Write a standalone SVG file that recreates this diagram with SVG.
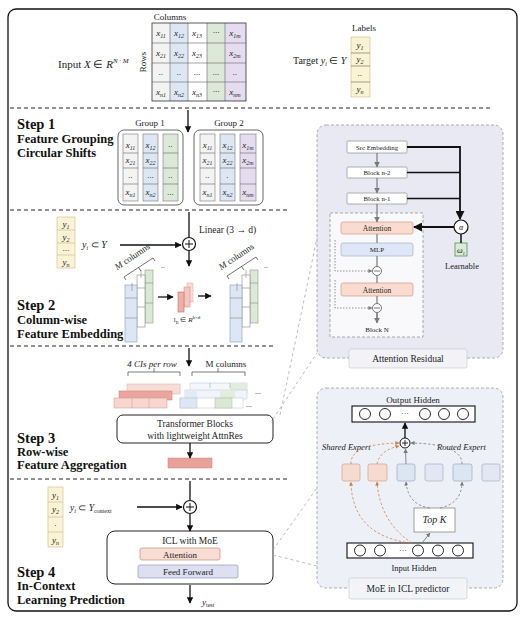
<svg xmlns="http://www.w3.org/2000/svg" width="525" height="617" viewBox="0 0 525 617">
<defs>
<marker id="ah" viewBox="0 0 10 10" refX="9" refY="5" markerWidth="5" markerHeight="5" orient="auto"><path d="M0,0 L10,5 L0,10 z" fill="#111"/></marker>
<marker id="ahg" viewBox="0 0 10 10" refX="9" refY="5" markerWidth="5" markerHeight="5" orient="auto"><path d="M0,0 L10,5 L0,10 z" fill="#7a7a7a"/></marker>
<marker id="aho" viewBox="0 0 10 10" refX="9" refY="5" markerWidth="5" markerHeight="5" orient="auto"><path d="M0,0 L10,5 L0,10 z" fill="#d08040"/></marker>
</defs>
<style>
text{font-family:"Liberation Serif","Times New Roman",serif;fill:#222}
.step{font-weight:bold;font-size:14.5px;fill:#111}
.sd{font-weight:bold;font-size:12.5px;fill:#111}
.c{font-size:9px;font-style:italic;text-anchor:middle}
.m{text-anchor:middle}
.cl{stroke:#666;stroke-width:0.6}
.sec{stroke:#222;stroke-width:1;fill:none;stroke-dasharray:4 3}
.ln{stroke:#111;stroke-width:1.3;fill:none}
.gl{stroke:#7a7a7a;stroke-width:1.2;fill:none}
.dc{stroke:#aaa;stroke-width:0.8;fill:none;stroke-dasharray:3 3}
.yl{fill:#fbf3d4;stroke:#c9bb8c;stroke-width:0.6}
.wb{fill:#f3f3f3}
.bb{fill:#dde7f4}
.gb{fill:#dde9d8}
.pb{fill:#e6dcef}
.blk{fill:#fff;stroke:#999;stroke-width:0.8}
</style>
<rect width="525" height="617" fill="#fff"/>
<rect x="8" y="9" width="509" height="602" rx="8" fill="none" stroke="#111" stroke-width="1.3"/>

<!-- section lines -->
<g id="sections">
<line class="sec" x1="10" y1="108" x2="490" y2="108"/>
<line class="sec" x1="10" y1="210" x2="290" y2="210"/>
<line class="sec" x1="10" y1="346" x2="275" y2="346"/>
<line class="sec" x1="10" y1="479" x2="290" y2="479"/>
</g>

<!-- input matrix -->
<g id="input">
<text x="58" y="68" font-size="11">Input <tspan font-style="italic">X</tspan>  ∈ <tspan font-style="italic">R</tspan><tspan font-size="7" dy="-5" font-style="italic">N · M</tspan></text>
<text x="170" y="20" font-size="9" class="m">Columns</text>
<text transform="translate(146,62) rotate(-90)" font-size="9" class="m">Rows</text>
<rect class="wb" x="152" y="23" width="18" height="78"/>
<rect class="bb" x="170" y="23" width="18" height="78"/>
<rect fill="#fff" x="188" y="23" width="19" height="78"/>
<rect class="gb" x="207" y="23" width="18" height="78"/>
<rect class="pb" x="225" y="23" width="21" height="78"/>
<g class="cl">
<line x1="170" y1="23" x2="170" y2="101"/><line x1="188" y1="23" x2="188" y2="101"/><line x1="207" y1="23" x2="207" y2="101"/><line x1="225" y1="23" x2="225" y2="101"/>
<line x1="152" y1="43" x2="246" y2="43"/><line x1="152" y1="63" x2="246" y2="63"/><line x1="152" y1="82" x2="246" y2="82"/>
</g>
<rect x="152" y="23" width="94" height="78" fill="none" stroke="#333" stroke-width="0.8"/>
<text class="c" x="161" y="36">x<tspan font-size="6" dy="2">11</tspan></text>
<text class="c" x="179" y="36">x<tspan font-size="6" dy="2">12</tspan></text>
<text class="c" x="197" y="36">x<tspan font-size="6" dy="2">13</tspan></text>
<text class="c" x="216" y="35">···</text>
<text class="c" x="235" y="36">x<tspan font-size="6" dy="2">1m</tspan></text>
<text class="c" x="161" y="56">x<tspan font-size="6" dy="2">21</tspan></text>
<text class="c" x="179" y="56">x<tspan font-size="6" dy="2">22</tspan></text>
<text class="c" x="197" y="56">x<tspan font-size="6" dy="2">23</tspan></text>
<text class="c" x="235" y="56">x<tspan font-size="6" dy="2">2m</tspan></text>
<text class="c" x="161" y="75">..</text><text class="c" x="179" y="75">..</text><text class="c" x="197" y="75">...</text><text class="c" x="216" y="75">...</text><text class="c" x="235" y="75">..</text>
<text class="c" x="161" y="95">x<tspan font-size="6" dy="2">n1</tspan></text>
<text class="c" x="179" y="95">x<tspan font-size="6" dy="2">n2</tspan></text>
<text class="c" x="197" y="95">x<tspan font-size="6" dy="2">n3</tspan></text>
<text class="c" x="216" y="94">···</text>
<text class="c" x="235" y="95">x<tspan font-size="6" dy="2">nm</tspan></text>
</g>

<!-- target labels -->
<g id="target">
<text x="293" y="64" font-size="10">Target <tspan font-style="italic">y</tspan><tspan font-size="6" dy="2" font-style="italic">i</tspan><tspan dy="-2">  ∈ </tspan><tspan font-style="italic">Y</tspan></text>
<text x="364" y="31" font-size="9" class="m">Labels</text>
<rect class="yl" x="351" y="37" width="19" height="60"/>
<g class="cl" stroke="#c9bb8c"><line x1="351" y1="53" x2="370" y2="53"/><line x1="351" y1="66" x2="370" y2="66"/><line x1="351" y1="82" x2="370" y2="82"/></g>
<text class="c" x="360" y="48">y<tspan font-size="6" dy="2">1</tspan></text>
<text class="c" x="360" y="62">y<tspan font-size="6" dy="2">2</tspan></text>
<text class="c" x="360" y="76">..</text>
<text class="c" x="360" y="92">y<tspan font-size="6" dy="2">n</tspan></text>
</g>

<!-- step 1 -->
<g id="step1">
<text class="step" x="17" y="129">Step 1</text>
<text class="sd" x="17" y="143">Feature Grouping</text>
<text class="sd" x="17" y="157">Circular Shifts</text>
<text x="150" y="126" font-size="9" class="m">Group 1</text>
<text x="229" y="126" font-size="9" class="m">Group 2</text>
<rect x="118" y="130" width="65" height="75" rx="6" fill="#fff" stroke="#555" stroke-width="0.9"/>
<rect x="194" y="130" width="69" height="75" rx="6" fill="#fff" stroke="#555" stroke-width="0.9"/>
<rect class="wb" x="123" y="134" width="15" height="67" stroke="#777" stroke-width="0.6"/>
<rect class="bb" x="143" y="134" width="15" height="67" stroke="#777" stroke-width="0.6"/>
<rect class="gb" x="163" y="134" width="15" height="67" stroke="#777" stroke-width="0.6"/>
<rect class="wb" x="200" y="134" width="15" height="67" stroke="#777" stroke-width="0.6"/>
<rect class="bb" x="220" y="134" width="15" height="67" stroke="#777" stroke-width="0.6"/>
<rect class="pb" x="240" y="134" width="16" height="67" stroke="#777" stroke-width="0.6"/>
<g class="cl">
<path d="M123,153H138M143,153H158M163,153H178M123,168H138M143,168H158M163,168H178M123,184H138M143,184H158M163,184H178"/>
<path d="M200,153H215M220,153H235M240,153H256M200,168H215M220,168H235M240,168H256M200,184H215M220,184H235M240,184H256"/>
</g>
<text class="c" x="130.5" y="148">x<tspan font-size="6" dy="2">11</tspan></text>
<text class="c" x="150.5" y="148">x<tspan font-size="6" dy="2">12</tspan></text>
<text class="c" x="170.5" y="147">..</text>
<text class="c" x="130.5" y="163">x<tspan font-size="6" dy="2">21</tspan></text>
<text class="c" x="150.5" y="163">x<tspan font-size="6" dy="2">22</tspan></text>
<text class="c" x="130.5" y="178">..</text><text class="c" x="150.5" y="178">...</text><text class="c" x="170.5" y="178">..</text>
<text class="c" x="130.5" y="195">x<tspan font-size="6" dy="2">n1</tspan></text>
<text class="c" x="150.5" y="195">x<tspan font-size="6" dy="2">n2</tspan></text>
<text class="c" x="170.5" y="195">...</text>
<text class="c" x="207.5" y="148">x<tspan font-size="6" dy="2">11</tspan></text>
<text class="c" x="227.5" y="148">x<tspan font-size="6" dy="2">12</tspan></text>
<text class="c" x="248" y="148">x<tspan font-size="6" dy="2">1m</tspan></text>
<text class="c" x="207.5" y="163">x<tspan font-size="6" dy="2">21</tspan></text>
<text class="c" x="227.5" y="163">x<tspan font-size="6" dy="2">22</tspan></text>
<text class="c" x="248" y="163">x<tspan font-size="6" dy="2">2m</tspan></text>
<text class="c" x="207.5" y="178">..</text><text class="c" x="227.5" y="178">.</text>
<text class="c" x="207.5" y="195">x<tspan font-size="6" dy="2">n1</tspan></text>
<text class="c" x="227.5" y="195">x<tspan font-size="6" dy="2">n2</tspan></text>
<text class="c" x="248" y="195">x<tspan font-size="6" dy="2">nm</tspan></text>
</g>

<!-- step 2 -->
<g id="step2">
<text class="step" x="17" y="310">Step 2</text>
<text class="sd" x="17" y="324">Column-wise</text>
<text class="sd" x="17" y="338">Feature Embedding</text>
<rect class="yl" x="57" y="217" width="18" height="51"/>
<g stroke="#c9bb8c" stroke-width="0.6"><line x1="57" y1="230" x2="75" y2="230"/><line x1="57" y1="243" x2="75" y2="243"/><line x1="57" y1="255" x2="75" y2="255"/></g>
<text class="c" x="66" y="227">y<tspan font-size="6" dy="2">1</tspan></text>
<text class="c" x="66" y="240">y<tspan font-size="6" dy="2">2</tspan></text>
<text class="c" x="66" y="251">...</text>
<text class="c" x="66" y="265">y<tspan font-size="6" dy="2">n</tspan></text>
<text x="82" y="248" font-size="10"><tspan font-style="italic">y</tspan><tspan font-size="6" dy="2" font-style="italic">i</tspan><tspan dy="-2"> ⊂ </tspan><tspan font-style="italic">Y</tspan></text>
<text x="199" y="233" font-size="9.5">Linear (3 → d)</text>
<circle cx="189" cy="244" r="6.5" fill="#fff" stroke="#111" stroke-width="1.2"/>
<path d="M185,244H193M189,240V248" stroke="#111" stroke-width="1"/>
<!-- left column stack -->
<rect x="145" y="270" width="8" height="53" fill="#dce8d6" stroke="#8a9f80" stroke-width="0.6"/>
<rect x="137" y="275" width="8" height="52" fill="#fff" stroke="#888" stroke-width="0.6"/>
<rect x="125" y="285" width="12" height="57" fill="#dde6f4" stroke="#8e9cba" stroke-width="0.6"/>
<path d="M125,298H137M125,318H137M137,288H145M137,307H145M145,283H153M145,303H153M132,283V291M141,270V278" stroke="#888" stroke-width="0.6"/>
<text transform="translate(134,259) rotate(-34)" font-size="9" class="m"><tspan font-style="italic">M</tspan> columns</text>
<path d="M124,277 L153,258 M138.5,267.5 L141,271 M124,277 L126,280 M153,258 L155,261" stroke="#333" stroke-width="0.7" fill="none"/>
<text x="161" y="268" font-size="8">..</text>
<!-- small pink -->
<rect x="187" y="283" width="6" height="19" fill="#f8dcd6" stroke="#e0a8a0" stroke-width="0.5"/>
<rect x="184" y="287" width="6" height="20" fill="#f3c6be" stroke="#d08a80" stroke-width="0.5"/>
<rect x="178" y="292" width="6" height="20" fill="#eeb0a6" stroke="#c0706a" stroke-width="0.6"/>
<text x="187" y="322" font-size="7" class="m">l<tspan font-size="5" dy="1.5">E</tspan><tspan dy="-1.5"> ∈ </tspan><tspan font-style="italic">R</tspan><tspan font-size="5" dy="-3">k×d</tspan></text>
<!-- right column stack -->
<rect x="250" y="270" width="8" height="53" fill="#dce8d6" stroke="#8a9f80" stroke-width="0.6"/>
<rect x="242" y="275" width="8" height="52" fill="#fff" stroke="#888" stroke-width="0.6"/>
<rect x="230" y="285" width="12" height="57" fill="#dde6f4" stroke="#8e9cba" stroke-width="0.6"/>
<path d="M230,298H242M230,318H242M242,288H250M242,307H250M250,283H258M250,303H258M237,283V291M246,270V278" stroke="#888" stroke-width="0.6"/>
<text transform="translate(238,259) rotate(-34)" font-size="9" class="m"><tspan font-style="italic">M</tspan> columns</text>
<path d="M227,276 L256,257 M241.5,266.5 L244,270 M227,276 L229,279 M256,257 L258,260" stroke="#333" stroke-width="0.7" fill="none"/>
<text x="264" y="268" font-size="8">..</text>
</g>

<!-- step 3 -->
<g id="step3">
<text class="step" x="17" y="443">Step 3</text>
<text class="sd" x="17" y="456">Row-wise</text>
<text class="sd" x="17" y="469">Feature Aggregation</text>
<text x="152" y="367" font-size="9" class="m" font-style="italic">4 CIs per row</text>
<text x="226" y="367" font-size="9" class="m">M columns</text>
<path d="M128,376V372H180V376M154,372V368" stroke="#444" stroke-width="0.7" fill="none"/>
<path d="M192,376V372H245V376M218,372V368" stroke="#444" stroke-width="0.7" fill="none"/>
<rect x="127" y="384" width="53" height="10" fill="#f8ddd7" stroke="#d9aaa0" stroke-width="0.5"/>
<rect x="119" y="391" width="53" height="9" fill="#eaa69c" stroke="#c8807a" stroke-width="0.5"/>
<rect x="114" y="398" width="53" height="10" fill="#f6d6cf" stroke="#c99" stroke-width="0.5"/>
<path d="M132,398V408M149,398V408" stroke="#c99" stroke-width="0.5"/>
<rect x="190" y="383" width="57" height="10" fill="#f4f7fb" stroke="#b8c4d0" stroke-width="0.5"/>
<rect x="230" y="383" width="17" height="10" fill="#e3eddf"/>
<path d="M210,383V388M230,383V388" stroke="#999" stroke-width="0.5"/>
<rect x="185" y="390" width="62" height="9" fill="#f1f5fb" stroke="#b8c4d0" stroke-width="0.5"/>
<rect x="185" y="390" width="12" height="9" fill="#e2eaf6"/>
<rect x="220" y="390" width="15" height="9" fill="#e3eddf"/>
<rect x="180" y="398" width="63" height="10" fill="#fff" stroke="#b8c4d0" stroke-width="0.5"/>
<rect x="180" y="398" width="17" height="10" fill="#dde6f4" stroke="#b8c4d0" stroke-width="0.5"/>
<rect x="215" y="398" width="17" height="10" fill="#dce8d6" stroke="#a8bca0" stroke-width="0.5"/>
<text x="255" y="394" font-size="8">...</text>
<text x="246" y="407" font-size="8">...</text>
<rect x="117" y="415" width="156" height="28" rx="6" fill="#fff" stroke="#222" stroke-width="1"/>
<text x="195" y="427" font-size="9.5" class="m">Transformer Blocks</text>
<text x="195" y="439" font-size="9.5" class="m">with lightweight AttnRes</text>
<rect x="168" y="458" width="44" height="10" fill="#e8a198" stroke="#c8807a" stroke-width="0.5"/>
</g>

<!-- step 4 -->
<g id="step4">
<text class="step" x="17" y="577">Step 4</text>
<text class="sd" x="17" y="590">In-Context</text>
<text class="sd" x="17" y="604">Learning Prediction</text>
<rect class="yl" x="48" y="487" width="15" height="60"/>
<g stroke="#c9bb8c" stroke-width="0.6"><line x1="48" y1="502" x2="63" y2="502"/><line x1="48" y1="517" x2="63" y2="517"/><line x1="48" y1="532" x2="63" y2="532"/></g>
<text class="c" x="55.5" y="498">y<tspan font-size="6" dy="2">1</tspan></text>
<text class="c" x="55.5" y="512">y<tspan font-size="6" dy="2">2</tspan></text>
<text class="c" x="55.5" y="526">.</text>
<text class="c" x="55.5" y="543">y<tspan font-size="6" dy="2">n</tspan></text>
<text x="70" y="511" font-size="9.5"><tspan font-style="italic">y</tspan><tspan font-size="6" dy="2" font-style="italic">i</tspan><tspan dy="-2"> ⊂ </tspan><tspan font-style="italic">Y</tspan><tspan font-size="6" dy="2">context</tspan></text>
<circle cx="190" cy="507" r="6.5" fill="#fff" stroke="#111" stroke-width="1.2"/>
<path d="M186,507H194M190,503V511" stroke="#111" stroke-width="1"/>
<rect x="107" y="531" width="166" height="53" rx="8" fill="#fff" stroke="#222" stroke-width="1"/>
<text x="190" y="544" font-size="9.5" class="m">ICL with MoE</text>
<rect x="140" y="548" width="80" height="12" rx="2" fill="#f7ddd3" stroke="#c48c7c" stroke-width="0.7"/>
<text x="180" y="557.5" font-size="9" class="m">Attention</text>
<rect x="138" y="565" width="100" height="13" rx="2" fill="#dfdff2" stroke="#9a9ab8" stroke-width="0.7"/>
<text x="188" y="575" font-size="9" class="m">Feed  Forward</text>
<text x="202" y="605" font-size="9" font-style="italic">y<tspan font-size="6" dy="2" font-style="normal">test</tspan></text>
</g>

<!-- attention residual panel -->
<g id="attn-panel">
<rect x="317" y="125" width="186" height="233" rx="9" fill="#e9e9f4" stroke="#999" stroke-width="0.8" stroke-dasharray="3 2"/>
<rect x="330" y="213" width="93" height="124" fill="#f9f9fc" stroke="#888" stroke-width="0.7" stroke-dasharray="3 2"/>
<rect class="blk" x="347" y="141" width="60" height="12" rx="1"/>
<text x="377" y="149.5" font-size="6.8" class="m">Src Embedding</text>
<rect class="blk" x="347" y="167" width="60" height="11" rx="1"/>
<text x="377" y="175" font-size="6.8" class="m">Block n-2</text>
<rect class="blk" x="347" y="193" width="60" height="11" rx="1"/>
<text x="377" y="201" font-size="6.8" class="m">Block n-1</text>
<rect x="341" y="222" width="72" height="12" rx="2" fill="#f9dccf" stroke="#d09a88" stroke-width="0.7"/>
<text x="377" y="231" font-size="7.5" class="m">Attention</text>
<rect x="341" y="243" width="72" height="13" rx="2" fill="#dfe6f5" stroke="#a3b3d0" stroke-width="0.7"/>
<text x="377" y="252" font-size="7" class="m">MLP</text>
<rect x="341" y="283" width="72" height="13" rx="2" fill="#f9dccf" stroke="#d09a88" stroke-width="0.7"/>
<text x="377" y="292.5" font-size="7.5" class="m">Attention</text>
<circle cx="377" cy="271" r="4.5" fill="#fff" stroke="#555" stroke-width="0.8"/>
<circle cx="377" cy="308" r="4.5" fill="#fff" stroke="#555" stroke-width="0.8"/>
<path d="M374,271H380M374,308H380" stroke="#555" stroke-width="0.8"/>
<text x="377" y="332" font-size="7" class="m">Block N</text>
<rect x="455" y="243" width="12" height="13" fill="#dcebd8" stroke="#5a8a5a" stroke-width="0.8"/>
<text x="461" y="253" font-size="8" class="m" font-style="italic">ω<tspan font-size="5" dy="1.5">1</tspan></text>
<text x="462" y="269" font-size="8.5" class="m">Learnable</text>
<circle cx="461" cy="227" r="7" fill="#fff" stroke="#111" stroke-width="1.2"/>
<text x="461" y="230" font-size="8" class="m" font-style="italic">α</text>
<rect x="349" y="349" width="118" height="19" rx="2" fill="#f3f3f7" stroke="#c8c8d4" stroke-width="0.7"/>
<text x="408" y="362" font-size="9.5" class="m">Attention Residual</text>
</g>

<!-- MoE panel -->
<g id="moe-panel">
<rect x="317" y="388" width="186" height="200" rx="9" fill="#eef0f7" stroke="#999" stroke-width="0.8" stroke-dasharray="3 2"/>
<text x="413" y="403" font-size="9" class="m">Output Hidden</text>
<rect x="352" y="406" width="123" height="16" fill="#fff" stroke="#111" stroke-width="1.1"/>
<g fill="#fff" stroke="#111" stroke-width="0.9">
<circle cx="365" cy="414" r="5.5"/><circle cx="385" cy="414" r="5.5"/><circle cx="425" cy="414" r="5.5"/><circle cx="444" cy="414" r="5.5"/><circle cx="463" cy="414" r="5.5"/>
</g>
<text x="405" y="416" font-size="8" class="m">···</text>
<circle cx="405" cy="443" r="5" fill="#fff" stroke="#111" stroke-width="1"/>
<path d="M402,443H408M405,440V446" stroke="#111" stroke-width="0.9"/>
<text x="322" y="450" font-size="8.5" font-style="italic">Shared Expert</text>
<text x="437" y="450" font-size="8.5" font-style="italic">Routed Expert</text>
<rect x="342" y="464" width="18" height="17" rx="2" fill="#f6dcd0" stroke="#c9a090" stroke-width="0.7"/>
<rect x="368" y="464" width="19" height="17" rx="2" fill="#f6dcd0" stroke="#c9a090" stroke-width="0.7"/>
<rect x="397" y="464" width="18" height="17" rx="2" fill="#dce6f2" stroke="#9aaac0" stroke-width="0.7"/>
<rect x="425" y="464" width="18" height="17" rx="2" fill="#e3e6f3" stroke="#a8aec6" stroke-width="0.7"/>
<rect x="453" y="464" width="19" height="17" rx="2" fill="#dce6f2" stroke="#9aaac0" stroke-width="0.7"/>
<rect x="482" y="464" width="18" height="17" rx="2" fill="#e3e6f3" stroke="#a8aec6" stroke-width="0.7"/>
<rect x="414" y="508" width="41" height="24" fill="#fff" stroke="#888" stroke-width="0.8"/>
<text x="434.5" y="523" font-size="10" class="m" font-style="italic">Top K</text>
<rect x="347" y="543" width="126" height="15" fill="#fff" stroke="#111" stroke-width="1.1"/>
<g fill="#fff" stroke="#111" stroke-width="0.9">
<circle cx="360" cy="550.5" r="5.5"/><circle cx="380" cy="550.5" r="5.5"/><circle cx="418" cy="550.5" r="5.5"/><circle cx="438" cy="550.5" r="5.5"/><circle cx="458" cy="550.5" r="5.5"/>
</g>
<text x="403" y="553" font-size="8" class="m">···</text>
<text x="414" y="571" font-size="8.5" class="m">Input Hidden</text>
<rect x="349" y="578" width="118" height="21" rx="2" fill="#f3f4f8" stroke="#c8c8d4" stroke-width="0.7"/>
<text x="408" y="592" font-size="9.5" class="m">MoE  in ICL predictor</text>
</g>

<!-- connectors -->
<g id="connectors">
<line class="ln" x1="188" y1="110" x2="188" y2="132" marker-end="url(#ah)"/>
<line class="ln" x1="120" y1="245" x2="181" y2="245" marker-end="url(#ah)"/>
<line class="ln" x1="189" y1="212" x2="189" y2="237"/>
<line class="ln" x1="189" y1="251" x2="189" y2="266" marker-end="url(#ah)"/>
<line class="ln" x1="158" y1="297" x2="173" y2="297" marker-end="url(#ah)"/>
<line class="ln" x1="198" y1="296" x2="211" y2="296" marker-end="url(#ah)"/>
<line class="ln" x1="189" y1="348" x2="189" y2="366" marker-end="url(#ah)"/>
<line class="ln" x1="190" y1="443" x2="190" y2="458" marker-end="url(#ah)"/>
<line class="ln" x1="190" y1="481" x2="190" y2="500"/>
<line class="ln" x1="137" y1="507" x2="182" y2="507" marker-end="url(#ah)"/>
<line class="ln" x1="190" y1="514" x2="190" y2="531" marker-end="url(#ah)"/>
<line class="ln" x1="190" y1="585" x2="190" y2="603" marker-end="url(#ah)"/>
<!-- panel links -->
<line class="dc" x1="280" y1="415" x2="317" y2="238"/>
<line class="dc" x1="273" y1="419" x2="317" y2="353"/>
<line class="dc" x1="273" y1="550" x2="317" y2="488"/>
<line class="dc" x1="273" y1="555" x2="317" y2="566"/>
<!-- attention residual -->
<line class="gl" x1="377" y1="153" x2="377" y2="167" marker-end="url(#ahg)"/>
<line class="gl" x1="377" y1="178" x2="377" y2="193" marker-end="url(#ahg)"/>
<line class="gl" x1="377" y1="204" x2="377" y2="222" marker-end="url(#ahg)"/>
<path class="gl" d="M377,234V243M377,256V266.5M377,275.5V283M377,296V303.5M377,312.5V322" />
<path d="M377,313V323" stroke="#7a7a7a" stroke-width="1.2" marker-end="url(#ahg)"/>
<path d="M335,240V271H372" stroke="#777" stroke-width="0.8" stroke-dasharray="1.5 1.5" fill="none" marker-end="url(#ahg)"/>
<path d="M335,280V308H372" stroke="#777" stroke-width="0.8" stroke-dasharray="1.5 1.5" fill="none" marker-end="url(#ahg)"/>
<path d="M407,147H460V219" stroke="#111" stroke-width="1.8" fill="none" marker-end="url(#ah)"/>
<path d="M407,172.5H460M407,198.5H460" stroke="#111" stroke-width="1.3" fill="none"/>
<line x1="454" y1="227" x2="414" y2="227" stroke="#111" stroke-width="1.8" marker-end="url(#ah)"/>
<line x1="461" y1="234" x2="461" y2="243" stroke="#111" stroke-width="1.5"/>
<!-- MoE -->
<line class="ln" x1="405" y1="438" x2="405" y2="423" marker-end="url(#ah)"/>
<path d="M351,464 Q350,444 399,443" stroke="#d08040" stroke-width="0.8" stroke-dasharray="2.5 2" fill="none" marker-end="url(#aho)"/>
<path d="M377,464 Q380,450 399,446" stroke="#d08040" stroke-width="0.8" stroke-dasharray="2.5 2" fill="none" marker-end="url(#aho)"/>
<line x1="406" y1="464" x2="405.5" y2="449" stroke="#7a7a7a" stroke-width="0.9" marker-end="url(#ahg)"/>
<path d="M462,464 Q462,444 411,443" stroke="#7a7a7a" stroke-width="0.8" stroke-dasharray="2.5 2" fill="none" marker-end="url(#ahg)"/>
<path d="M410,543 Q352,535 351,482" stroke="#d08040" stroke-width="0.8" stroke-dasharray="2.5 2" fill="none" marker-end="url(#aho)"/>
<path d="M412,543 Q380,522 377,482" stroke="#d08040" stroke-width="0.8" stroke-dasharray="2.5 2" fill="none" marker-end="url(#aho)"/>
<path d="M422,543 L430,533" stroke="#7a7a7a" stroke-width="0.9" fill="none" marker-end="url(#ahg)"/>
<path d="M430,508 Q408,505 406,482" stroke="#7a7a7a" stroke-width="0.8" stroke-dasharray="2.5 2" fill="none" marker-end="url(#ahg)"/>
<path d="M440,508 Q462,503 462,482" stroke="#7a7a7a" stroke-width="0.8" stroke-dasharray="2.5 2" fill="none" marker-end="url(#ahg)"/>
</g>
</svg>
